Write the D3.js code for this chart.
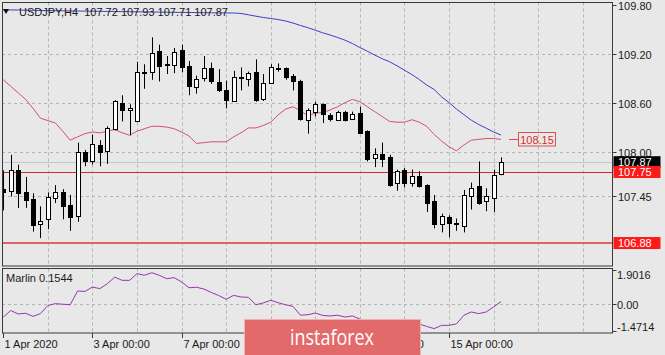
<!DOCTYPE html>
<html><head><meta charset="utf-8">
<script src="https://cdn.jsdelivr.net/npm/d3@7"></script>
<style>html,body{margin:0;padding:0;background:#e8e8e8;overflow:hidden}svg{display:block;font-family:"Liberation Sans",Arial,sans-serif}</style>
</head><body><svg id="c" width="665" height="355"></svg>
<script>
const opens = [107.54,107.52,107.78,107.50,107.42,107.11,107.17,107.43,107.50,107.35,107.21,108.00,107.88,108.08,108.01,108.28,108.60,108.51,108.37,108.96,108.97,109.23,109.07,109.06,109.24,109.05,108.79,108.90,109.03,108.85,108.75,108.62,108.91,108.89,108.97,108.64,108.84,109.01,109.02,108.92,108.86,108.39,108.49,108.58,108.45,108.39,108.49,108.40,108.47,108.25,107.92,107.97,107.93,107.61,107.78,107.62,107.70,107.59,107.40,107.11,107.20,107.12,107.09,107.46,107.58,107.39,107.43,107.72];
const highs = [107.77,107.96,107.84,107.69,107.49,107.33,107.50,107.59,107.54,107.47,108.11,108.02,108.21,108.14,108.31,108.63,108.69,108.58,109.10,109.07,109.40,109.31,109.17,109.27,109.31,109.11,108.93,109.17,109.09,109.01,108.87,108.99,109.03,108.98,109.13,108.95,109.07,109.08,109.03,108.95,108.88,108.53,108.61,108.59,108.47,108.50,108.50,108.49,108.55,108.26,108.04,108.11,107.96,107.78,107.80,107.78,107.76,107.60,107.47,107.24,107.22,107.18,107.53,107.62,107.88,107.55,107.78,107.93];
const lows = [107.28,107.45,107.31,107.31,107.02,106.94,107.05,107.37,107.17,107.03,107.14,107.82,107.84,107.82,107.85,108.26,108.37,108.20,108.36,108.77,108.88,108.86,108.95,108.96,108.97,108.69,108.71,108.86,108.83,108.73,108.53,108.61,108.75,108.80,108.61,108.62,108.83,108.98,108.88,108.75,108.38,108.22,108.43,108.35,108.37,108.38,108.37,108.39,108.22,107.88,107.81,107.81,107.57,107.52,107.56,107.57,107.56,107.26,107.06,107.01,106.95,107.03,107.01,107.29,107.35,107.27,107.26,107.71];
const closes = [107.50,107.78,107.49,107.41,107.10,107.15,107.44,107.51,107.33,107.20,107.99,107.88,108.09,108.00,108.29,108.62,108.51,108.54,108.97,108.97,109.21,109.05,109.06,109.22,109.04,108.80,108.89,109.02,108.86,108.75,108.63,108.91,108.90,108.96,108.63,108.84,109.04,109.02,108.91,108.86,108.40,108.51,108.58,108.46,108.40,108.49,108.39,108.46,108.23,107.91,107.97,107.91,107.59,107.76,107.62,107.70,107.58,107.37,107.11,107.21,107.13,107.11,107.47,107.56,107.37,107.45,107.71,107.87];
const envelope = [108.88,108.80,108.72,108.64,108.53,108.41,108.38,108.35,108.25,108.14,108.18,108.22,108.24,108.23,108.25,108.27,108.23,108.20,108.25,108.28,108.31,108.31,108.30,108.28,108.24,108.19,108.10,108.11,108.12,108.12,108.12,108.18,108.23,108.29,108.29,108.32,108.36,108.45,108.52,108.55,108.50,108.44,108.47,108.48,108.51,108.55,108.60,108.64,108.61,108.55,108.49,108.43,108.37,108.36,108.36,108.39,108.36,108.31,108.21,108.13,108.06,108.01,108.08,108.14,108.15,108.16,108.16,108.15];
const maLine = [109.735,109.735,109.735,109.732,109.731,109.728,109.727,109.726,109.725,109.723,109.722,109.721,109.720,109.719,109.717,109.716,109.715,109.714,109.712,109.711,109.710,109.709,109.708,109.706,109.705,109.704,109.703,109.701,109.700,109.699,109.699,109.698,109.692,109.676,109.659,109.643,109.630,109.618,109.600,109.575,109.545,109.518,109.487,109.455,109.428,109.398,109.365,109.324,109.275,109.230,109.183,109.138,109.101,109.051,108.997,108.944,108.883,108.816,108.761,108.671,108.601,108.522,108.453,108.385,108.332,108.287,108.241,108.203];
const marlin = [-0.70,-0.34,-0.53,-0.49,-0.66,-0.51,-0.06,0.04,0.01,-0.02,0.74,0.72,0.96,0.87,1.14,1.51,1.33,1.33,1.70,1.61,1.75,1.61,1.42,1.48,1.24,0.92,0.95,0.85,0.66,0.49,0.28,0.50,0.41,0.39,-0.02,0.08,0.23,0.09,-0.02,-0.11,-0.60,-0.57,-0.48,-0.61,-0.64,-0.60,-0.70,-0.64,-0.81,-1.08,-1.25,-1.30,-1.25,-1.19,-1.08,-0.97,-1.08,-1.22,-1.34,-1.16,-1.16,-1.08,-0.60,-0.42,-0.51,-0.42,-0.14,0.1544];
const priceTicks = [109.80, 109.20, 108.60, 108.00, 107.45];
const priceTickLabels = ["109.80","109.20","108.60","108.00","107.45"];
const marlinTicks = [1.9016, 0, -1.4714];
const marlinTickLabels = ["1.9016","0.00","-1.4714"];
const timeTickIndex = [0, 12, 24, 36, 48, 60];
const timeTickLabels = ["1 Apr 2020","3 Apr 00:00","7 Apr 00:00","","13 Apr 00:00","15 Apr 00:00"];
const levels = [107.75, 106.88];
const levelLabels = ["107.75","106.88"];
const lastPrice = 107.87;
const envLabel = 108.15;
const titleText = "USDJPY,H4  107.72 107.93 107.71 107.87";
const marlinTitle = "Marlin 0.1544";

const svg = d3.select("#c");
const L = 2, R = 612.5, mainTop = 2.5, mainBot = 266, indTop = 268.5, indBot = 333;
const n = opens.length;
const x = d3.scaleLinear().domain([0, n - 1]).range([3.3, 501]);
const y = d3.scaleLinear().domain([106.5986, 109.8265]).range([mainBot, mainTop]);
const ym = d3.scaleLinear().domain([-1.4714, 1.9016]).range([331, 270]);
const px = v => Math.round(x(v)) + 0.5;

svg.append("rect").attr("width", 665).attr("height", 355).attr("fill", "#e8e8e8");
const defs = svg.append("defs");
defs.append("clipPath").attr("id", "cm").append("rect").attr("x", L).attr("y", mainTop).attr("width", R - L).attr("height", mainBot - mainTop);
defs.append("clipPath").attr("id", "ci").append("rect").attr("x", L).attr("y", indTop).attr("width", R - L).attr("height", indBot - indTop);

const gm = svg.append("g").attr("clip-path", "url(#cm)");
const gi = svg.append("g").attr("clip-path", "url(#ci)");
const gridIdx = d3.range(6, 80, 6);
const gridStyle = s => s.attr("stroke", "#b4b4b4").attr("stroke-width", 1).attr("stroke-dasharray", "3,3");

gm.selectAll(".vg").data(gridIdx).join("line").attr("x1", d => px(d)).attr("x2", d => px(d)).attr("y1", mainTop).attr("y2", mainBot).call(gridStyle);
gm.selectAll(".hg").data(priceTicks.slice(1)).join("line").attr("x1", L).attr("x2", R).attr("y1", d => Math.round(y(d)) + 0.5).attr("y2", d => Math.round(y(d)) + 0.5).call(gridStyle);
gi.selectAll(".vg").data(gridIdx).join("line").attr("x1", d => px(d)).attr("x2", d => px(d)).attr("y1", indTop).attr("y2", indBot).call(gridStyle);
gi.append("line").attr("x1", L).attr("x2", R).attr("y1", Math.round(ym(0)) + 0.5).attr("y2", Math.round(ym(0)) + 0.5).call(gridStyle);

svg.append("path").attr("d", "M3,9 L9,9 L6,14 Z").attr("fill", "#101010");
svg.append("text").attr("x", 19).attr("y", 16).attr("font-size", 11).attr("fill", "#1a1a1a").style("white-space", "pre").text(titleText);

gm.append("line").attr("x1", L).attr("x2", R).attr("y1", Math.round(y(lastPrice)) + 0.5).attr("y2", Math.round(y(lastPrice)) + 0.5).attr("stroke", "#c6c6c6").attr("stroke-width", 1);

gm.append("line").attr("x1", L).attr("x2", R).attr("y1", Math.round(y(levels[0])) + 0.5).attr("y2", Math.round(y(levels[0])) + 0.5).attr("stroke", "#d42a2a").attr("stroke-width", 1);
gm.append("line").attr("x1", L).attr("x2", R).attr("y1", y(levels[1])).attr("y2", y(levels[1])).attr("stroke", "#e06464").attr("stroke-width", 2);

const lineP = d3.line().x((d, i) => x(i)).y(d => y(d));
gm.append("path").attr("d", lineP(envelope)).attr("fill", "none").attr("stroke", "#d4506a").attr("stroke-width", 1);
gm.append("path").attr("d", lineP(maLine)).attr("fill", "none").attr("stroke", "#3f3fc4").attr("stroke-width", 1);

const cg = gm.append("g");
d3.range(n).forEach(i => {
  const cx = px(i);
  cg.append("line").attr("x1", cx).attr("x2", cx).attr("y1", y(highs[i])).attr("y2", y(lows[i])).attr("stroke", "#000").attr("stroke-width", 1);
  const top = Math.round(y(Math.max(opens[i], closes[i])));
  const bot = Math.round(y(Math.min(opens[i], closes[i])));
  const bull = closes[i] >= opens[i];
  cg.append("rect").attr("x", cx - 2).attr("y", top + 0.5).attr("width", 4).attr("height", Math.max(bot - top, 1))
    .attr("fill", bull ? "#fff" : "#000").attr("stroke", "#000").attr("stroke-width", 1);
});

const ey = Math.round(y(envLabel)) + 0.5;
svg.append("line").attr("x1", 509).attr("x2", 518).attr("y1", ey).attr("y2", ey).attr("stroke", "#e05050").attr("stroke-width", 1);
svg.append("rect").attr("x", 518.5).attr("y", ey - 7).attr("width", 37).attr("height", 13.5).attr("fill", "none").attr("stroke", "#e05050").attr("stroke-width", 1);
svg.append("text").attr("x", 537).attr("y", ey + 4).attr("text-anchor", "middle").attr("font-size", 11).attr("fill", "#d83030").text(envLabel.toFixed(2));

gi.append("path").attr("d", d3.line().x((d, i) => x(i)).y(d => ym(d))(marlin)).attr("fill", "none").attr("stroke", "#9438a8").attr("stroke-width", 1);
svg.append("text").attr("x", 6).attr("y", 282).attr("font-size", 11).attr("fill", "#1a1a1a").text(marlinTitle);

svg.append("rect").attr("x", L + 0.5).attr("y", mainTop).attr("width", R - L - 0.5).attr("height", mainBot - mainTop).attr("fill", "none").attr("stroke", "#3a3a3a").attr("stroke-width", 1);
svg.append("rect").attr("x", L + 0.5).attr("y", indTop).attr("width", R - L - 0.5).attr("height", indBot - indTop).attr("fill", "none").attr("stroke", "#3a3a3a").attr("stroke-width", 1);

const ax = svg.append("g");
priceTicks.forEach((p, k) => {
  const yy = Math.round(y(p)) + 0.5;
  ax.append("line").attr("x1", R).attr("x2", R + 4).attr("y1", yy).attr("y2", yy).attr("stroke", "#3a3a3a");
  ax.append("text").attr("x", 618).attr("y", yy + 4).attr("font-size", 11).attr("fill", "#1a1a1a").text(priceTickLabels[k]);
});
marlinTicks.forEach((m, k) => {
  const yy = Math.round(ym(m)) + 0.5;
  ax.append("line").attr("x1", R).attr("x2", R + 4).attr("y1", yy).attr("y2", yy).attr("stroke", "#3a3a3a");
  const ty = k === 0 ? yy + 8 : (k === 2 ? yy - 1 : yy + 4);
  ax.append("text").attr("x", 617).attr("y", ty).attr("font-size", 11).attr("fill", "#1a1a1a").text(marlinTickLabels[k]);
});
const box = (p, fill, label) => {
  const yy = y(p);
  ax.append("rect").attr("x", 613.5).attr("y", yy - 6).attr("width", 47).attr("height", 12).attr("fill", fill);
  ax.append("text").attr("x", 618).attr("y", yy + 4).attr("font-size", 11).attr("fill", "#fff").text(label);
};
box(lastPrice, "#000", lastPrice.toFixed(2));
box(levels[0], "#ff1a1a", levelLabels[0]);
box(levels[1], "#ff1a1a", levelLabels[1]);

timeTickIndex.forEach((ti, k) => {
  const xx = px(ti);
  ax.append("line").attr("x1", xx).attr("x2", xx).attr("y1", indBot).attr("y2", indBot + 5).attr("stroke", "#3a3a3a");
  if (timeTickLabels[k]) ax.append("text").attr("x", xx + 1).attr("y", 348).attr("font-size", 11).attr("fill", "#1a1a1a").text(timeTickLabels[k]);
});

svg.append("rect").attr("x", 244.5).attr("y", 319.5).attr("width", 176).attr("height", 40).attr("fill", "#e36a6a").attr("stroke", "#f3b0b0").attr("stroke-width", 1);
svg.append("text").attr("x", 332).attr("y", 345).attr("text-anchor", "middle").attr("font-family", "'Open Sans', sans-serif").attr("font-size", 21)
  .attr("textLength", 84).attr("lengthAdjust", "spacingAndGlyphs").attr("fill", "#fff").text("instaforex");
</script></body></html>
